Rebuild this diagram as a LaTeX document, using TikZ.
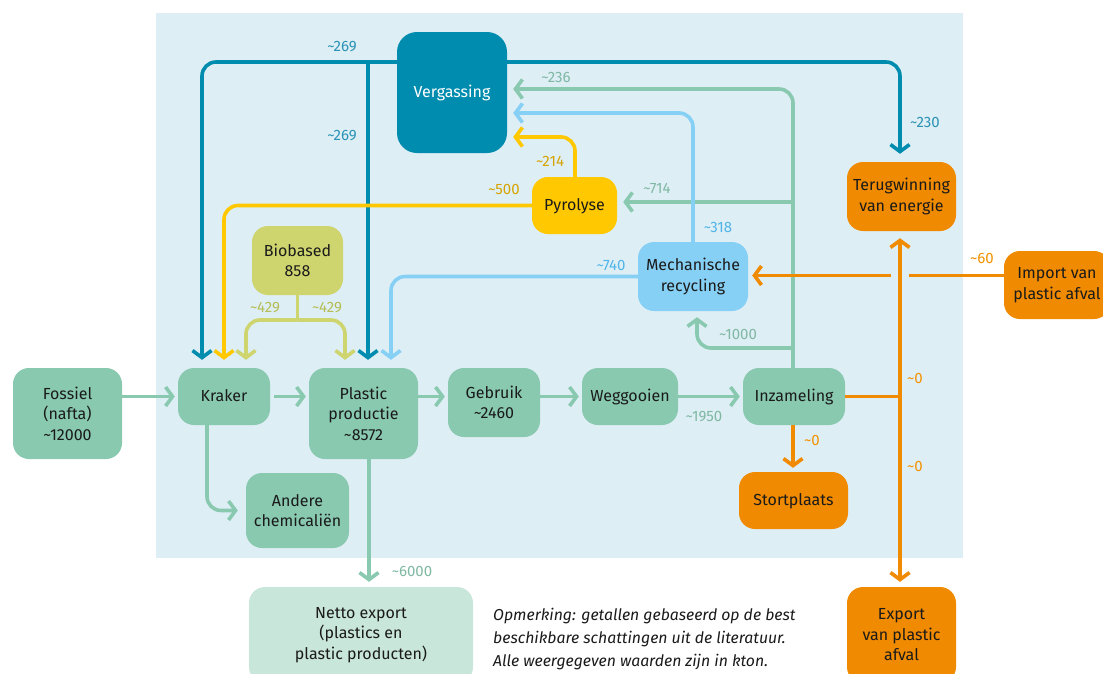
\documentclass[tikz,border=0pt]{standalone}
\usepackage{fontspec}
\setmainfont{Fira Sans}
\usetikzlibrary{arrows.meta}
\definecolor{bgc}{HTML}{DEEEF5}
\definecolor{grn}{HTML}{88C9B0}
\definecolor{grnl}{HTML}{7FB8A3}
\definecolor{tea}{HTML}{008CAE}
\definecolor{teal}{HTML}{2A93B5}
\definecolor{yel}{HTML}{FFC800}
\definecolor{yell}{HTML}{D6A400}
\definecolor{oli}{HTML}{CED56E}
\definecolor{olil}{HTML}{B5BD55}
\definecolor{blu}{HTML}{87D0F5}
\definecolor{blul}{HTML}{4FB5E8}
\definecolor{ora}{HTML}{F08A00}
\definecolor{oral}{HTML}{F39200}
\definecolor{mint}{HTML}{C9E6DA}
\definecolor{ink}{HTML}{1A1A1A}
\newcommand\apx{\textasciitilde}
\begin{document}
\begin{tikzpicture}[x=1pt,y=-1pt,
  box/.style={rounded corners=16pt, inner sep=0pt, align=center, text=ink,
    font=\fontsize{16}{20.5}\selectfont},
  one/.style={text height=11.5pt, text depth=1.5pt},
  lab/.style={inner sep=0pt, font=\fontsize{15}{17}\selectfont},
  con/.style={line width=3.6pt, rounded corners=14pt},
  arr/.style={-{Straight Barb[length=7pt,width=19pt]}, shorten >=7pt},
  gl/.style={con, draw=grn},
  tl/.style={con, draw=tea},
  yl/.style={con, draw=yel},
  ol/.style={con, draw=oli},
  bl/.style={con, draw=blu},
  rl/.style={con, draw=ora}]
\useasboundingbox (0,0) rectangle (1103,673);
\fill[bgc] (156,13) rectangle (963,558);

% nodes
\node[box, fill=grn, minimum width=109pt, minimum height=91pt] (fossiel) at (67.5,413.5) {Fossiel\\(nafta)\\\apx12000};
\node[box, one, fill=grn, minimum width=92pt, minimum height=57pt] (kraker) at (224,396.5) {Kraker};
\node[box, fill=grn, minimum width=109pt, minimum height=91pt] (plastic) at (363.5,413.5) {Plastic\\productie\\\apx8572};
\node[box, fill=grn, minimum width=92pt, minimum height=69pt] (gebruik) at (494,402.5) {Gebruik\\\apx2460};
\node[box, one, fill=grn, minimum width=96pt, minimum height=57pt] (weggooien) at (630,396.5) {Weggooien};
\node[box, one, fill=grn, minimum width=102pt, minimum height=57pt] (inzameling) at (794,396.5) {Inzameling};
\node[box, fill=oli, minimum width=91pt, minimum height=69pt] (biobased) at (297.5,260.5) {Biobased\\858};
\node[box, fill=grn, minimum width=103pt, minimum height=75pt] (andere) at (297.5,510.5) {Andere\\chemicaliën};
\node[box, fill=mint, minimum width=224pt, minimum height=96pt] (netto) at (361,635) {Netto export\\(plastics en\\plastic producten)};
\node[box, one, fill=tea, text=white, minimum width=110pt, minimum height=121pt, rounded corners=20pt] (vergassing) at (452,92.5) {Vergassing};
\node[box, one, fill=yel, minimum width=85pt, minimum height=57pt] (pyrolyse) at (574.5,205.5) {Pyrolyse};
\node[box, fill=blu, minimum width=110pt, minimum height=69pt] (mech) at (693,276.5) {Mechanische\\recycling};
\node[box, fill=ora, minimum width=109pt, minimum height=69pt] (teru) at (901.5,196.5) {Terugwinning\\van energie};
\node[box, fill=ora, minimum width=106pt, minimum height=68pt] (import) at (1057,285) {Import van\\plastic afval};
\node[box, one, fill=ora, minimum width=109pt, minimum height=57pt] (stort) at (793.5,500.5) {Stortplaats};
\node[box, fill=ora, minimum width=109pt, minimum height=96pt] (export) at (901.5,635) {Export\\van plastic\\afval};
\node[anchor=north west, inner sep=0pt, align=left, text=ink,
  font=\itshape\fontsize{15.8}{23}\selectfont] (note) at (493,608)
  {Opmerking: getallen gebaseerd op de best\\beschikbare schattingen uit de literatuur.\\Alle weergegeven waarden zijn in kton.};

% junction coordinates
\coordinate (g1) at (793,202);
\coordinate (g2) at (793,348);
\coordinate (t1) at (368,62);
\coordinate (o1) at (297.5,320);
\coordinate (oj) at (900,396.5);
\coordinate (gapR) at (909,275.5);
\coordinate (gapL) at (891,275.5);

% main chain
\draw[gl, arr, shorten >=3pt] (fossiel.east |- kraker.west) -- (kraker.west);
\draw[gl, arr, shorten >=3pt, shorten <=4pt] (kraker.east) -- (kraker.east -| plastic.west);
\draw[gl, arr, shorten >=3pt] (plastic.east |- kraker.east) -- (gebruik.west |- kraker.east);
\draw[gl, arr, shorten >=3pt] (gebruik.east |- weggooien.west) -- (weggooien.west);
\draw[gl, arr, shorten >=3pt] (weggooien.east) -- (inzameling.west);
\draw[gl, arr, shorten >=8pt] ([xshift=-17pt]kraker.south) |- (andere.west);
\draw[gl, arr, shorten >=5pt] ([xshift=5.5pt]plastic.south) -- ([xshift=5.5pt]plastic.south |- netto.north);

% green returns
\draw[gl, arr, shorten >=6pt] ([xshift=-1pt]inzameling.north) |- ([yshift=3.5pt]vergassing.east);
\draw[gl, arr, shorten >=6pt] (g1) -- (g1 -| pyrolyse.east);
\draw[gl, arr, shorten >=6pt] (g2) -| ([xshift=4pt]mech.south);

% teal
\draw[tl, arr, shorten >=8pt] ([yshift=30.5pt]vergassing.west) -| ([xshift=-22pt]kraker.north);
\draw[tl, arr, shorten >=8pt] (t1) -- ([xshift=4.5pt]plastic.north);
\draw[tl, arr, shorten >=8pt] ([yshift=30.5pt]vergassing.east) -| ([xshift=-1.5pt]teru.north);

% yellow
\draw[yl, arr, shorten >=6pt] ([xshift=0.5pt]pyrolyse.north) |- ([yshift=-44.5pt]vergassing.east);
\draw[yl, arr, shorten >=8pt] (pyrolyse.west) -| (kraker.north);

% olive
\draw[ol] (biobased.south) -- (o1);
\draw[ol, arr, shorten >=8pt] (o1) -| ([xshift=22pt]kraker.north);
\draw[ol, arr, shorten >=8pt] (o1) -| ([xshift=-18.5pt]plastic.north);

% light blue
\draw[bl, arr, shorten >=6pt] (mech.north) |- ([yshift=-20.5pt]vergassing.east);
\draw[bl, arr, shorten >=8pt] (mech.west) -| ([xshift=27.5pt]plastic.north);

% orange
\draw[rl] (inzameling.east) -- (oj);
\draw[rl, arr, shorten >=7pt] (oj) -- (oj |- teru.south);
\draw[rl, arr, shorten >=5pt] (oj) -- (oj |- export.north);
\draw[rl, arr, shorten >=4pt] ([xshift=-1pt]inzameling.south) -- ([xshift=-1pt]inzameling.south |- stort.north);
\draw[rl] (import.west |- gapR) -- (gapR);
\draw[rl, arr, shorten >=4pt] (gapL) -- (gapL -| mech.east);

% labels
\node[lab, text=teal] (l269a) at (342,47) {\apx269};
\node[lab, text=teal] (l269b) at (342,136) {\apx269};
\node[lab, text=grnl] (l236) at (556,77) {\apx236};
\node[lab, text=teal] (l230) at (925,122) {\apx230};
\node[lab, text=yell] (l214) at (550,161) {\apx214};
\node[lab, text=yell] (l500) at (504,189) {\apx500};
\node[lab, text=grnl] (l714) at (657,188) {\apx714};
\node[lab, text=blul] (l318) at (718,227) {\apx318};
\node[lab, text=olil] (l429a) at (265,308) {\apx429};
\node[lab, text=olil] (l429b) at (327,308) {\apx429};
\node[lab, text=blul] (l740) at (611,265) {\apx740};
\node[lab, text=oral] (l60) at (982,258) {\apx60};
\node[lab, text=grnl] (l1000) at (738,334) {\apx1000};
\node[lab, text=grnl] (l1950) at (704,417) {\apx1950};
\node[lab, text=oral] (l0a) at (812,440) {\apx0};
\node[lab, text=oral] (l0b) at (915,378) {\apx0};
\node[lab, text=oral] (l0c) at (915,466) {\apx0};
\node[lab, text=grnl] (l6000) at (412,571) {\apx6000};
\end{tikzpicture}
\end{document}
